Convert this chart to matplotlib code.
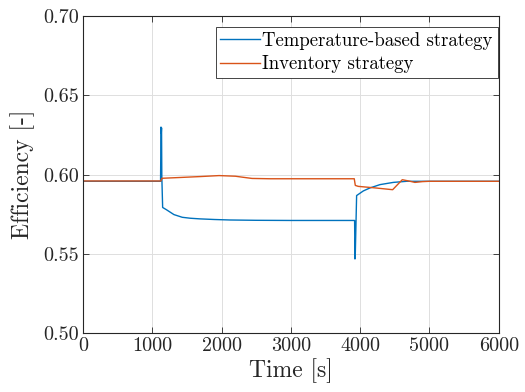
import numpy as np
import matplotlib
matplotlib.use("Agg")
from matplotlib import pyplot as plt

# datos
t_temp = [0, 1120, 1126, 1130, 1134, 1138, 1150, 1200, 1313, 1433, 1550, 1688,
          1900, 2121, 2500, 3000, 3920, 3925, 3930, 3949, 4045, 4141, 4286,
          4478, 4671, 5000, 6000]
eff_temp = [0.5958, 0.5958, 0.6300, 0.6260, 0.6295, 0.5990, 0.5793, 0.5780,
            0.5748, 0.5731, 0.5725, 0.5721, 0.5717, 0.5714, 0.5712, 0.5711,
            0.5711, 0.5468, 0.5500, 0.5868, 0.5897, 0.5916, 0.5937, 0.5951,
            0.5958, 0.5958, 0.5958]

t_inv = [0, 1125, 1140, 1400, 1700, 1965, 2200, 2300, 2440, 2700, 3000, 3915,
         3930, 3973, 4200, 4469, 4608, 4700, 4791, 4900, 5000, 6000]
eff_inv = [0.5960, 0.5960, 0.5977, 0.5982, 0.5988, 0.5994, 0.5990, 0.5984,
           0.5976, 0.5974, 0.5974, 0.5974, 0.5932, 0.5926, 0.5917, 0.5905,
           0.5968, 0.5960, 0.5951, 0.5956, 0.5958, 0.5958]

x_ticks = [0, 1000, 2000, 3000, 4000, 5000, 6000]
y_ticks = [0.50, 0.55, 0.60, 0.65, 0.70]

plt.rcParams["font.family"] = "serif"
plt.rcParams["font.serif"] = ["cmr10"]
plt.rcParams["mathtext.fontset"] = "cm"
plt.rcParams["axes.formatter.use_mathtext"] = True

fig = plt.figure(figsize=(5.25, 3.92), dpi=100)
ax = fig.add_axes([0.158, 0.150, 0.792, 0.809])

ax.plot(t_temp, eff_temp, color="#0072BD", lw=1.0, label="Temperature-based strategy")
ax.plot(t_inv, eff_inv, color="#D95319", lw=1.0, label="Inventory strategy")

ax.set_xlim(0, 6000)
ax.set_ylim(0.50, 0.70)
ax.set_xticks(x_ticks)
ax.set_yticks(y_ticks)
ax.set_xticklabels([str(v) for v in x_ticks])
ax.set_yticklabels(["%.2f" % v for v in y_ticks])
ax.tick_params(direction="in", top=True, right=True, labelsize=14.5,
               length=4, width=0.6, colors="#262626", pad=3)
ax.grid(True, color="#dedede", lw=0.7)
for s in ax.spines.values():
    s.set_color("#262626")
    s.set_linewidth(0.8)

ax.set_xlabel("Time [s]", fontsize=17, color="#262626", labelpad=2)
ax.set_ylabel("Efficiency [-]", fontsize=17, color="#262626", labelpad=6)

leg = ax.legend(loc="upper right", bbox_to_anchor=(0.997, 0.966), fontsize=13.5,
                handlelength=2.1, handletextpad=0.15, borderpad=0.25,
                labelspacing=0.3, fancybox=False, framealpha=1, borderaxespad=0)
leg.get_frame().set_edgecolor("#262626")
leg.get_frame().set_linewidth(0.6)

plt.savefig("out.png", dpi=100)
